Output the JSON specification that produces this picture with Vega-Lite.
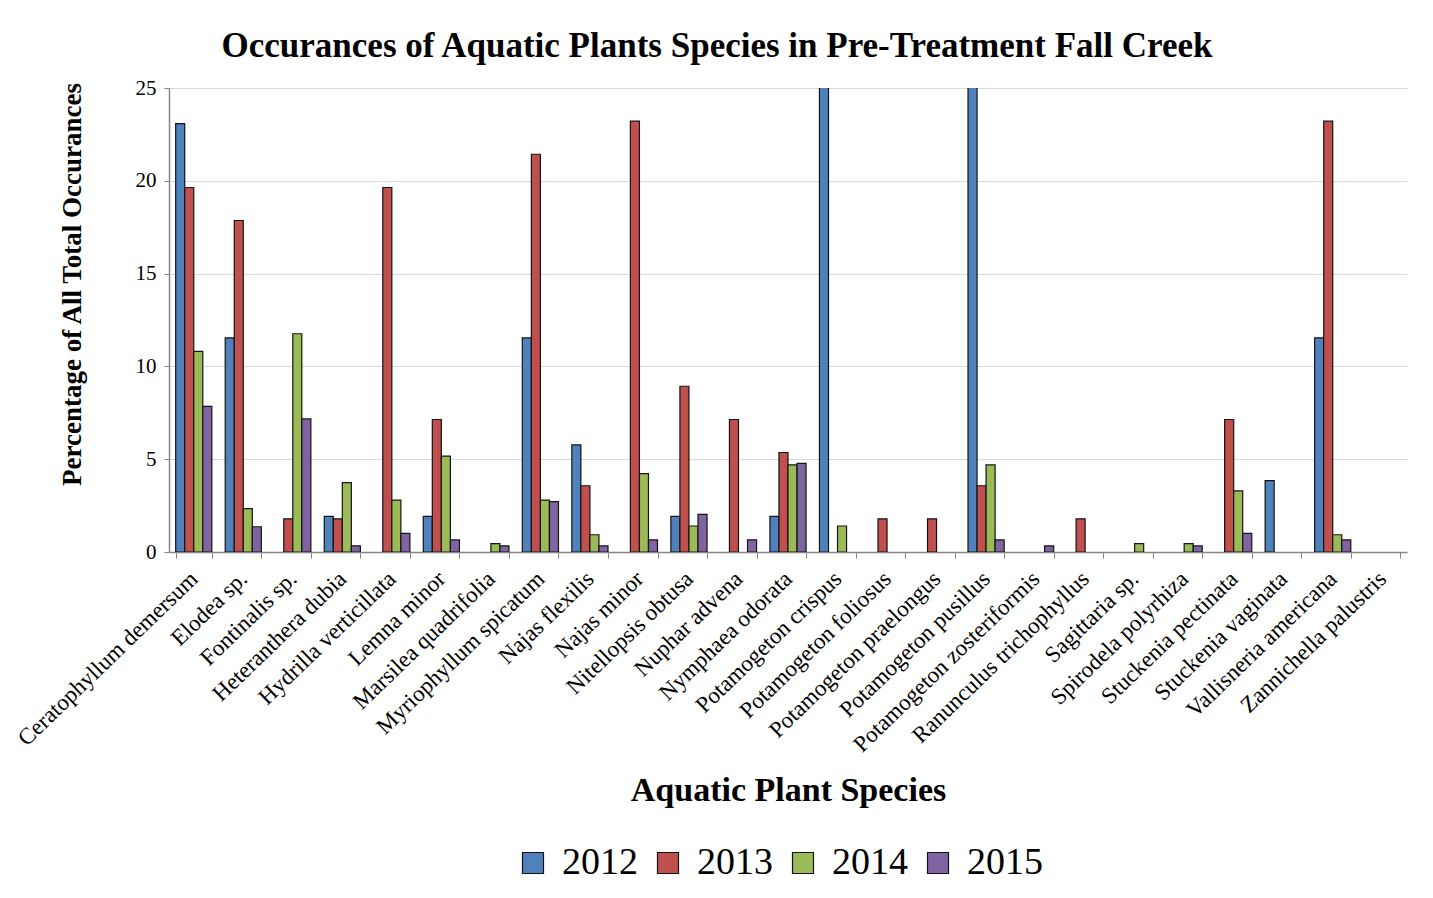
{
  "$schema": "https://vega.github.io/schema/vega-lite/v6.json",
  "autosize": {"type": "none"},
  "width": 1238,
  "height": 464,
  "padding": {"left": 169, "top": 88, "right": 26, "bottom": 346},
  "background": "white",
  "config": {
    "font": "Liberation Serif",
    "view": {"stroke": null}
  },
  "title": {
    "text": "Occurances of Aquatic Plants Species in Pre-Treatment Fall Creek",
    "font": "Liberation Serif",
    "fontSize": 35,
    "fontWeight": "bold",
    "color": "black",
    "anchor": "middle",
    "frame": "group",
    "dx": -71,
    "dy": 39,
    "baseline": "alphabetic",
    "offset": 24
  },
  "data": {
    "values": [
      {"species": "Ceratophyllum demersum", "year": "2012", "value": 23.08},
      {"species": "Ceratophyllum demersum", "year": "2013", "value": 19.64},
      {"species": "Ceratophyllum demersum", "year": "2014", "value": 10.81},
      {"species": "Ceratophyllum demersum", "year": "2015", "value": 7.85},
      {"species": "Elodea sp.", "year": "2012", "value": 11.54},
      {"species": "Elodea sp.", "year": "2013", "value": 17.86},
      {"species": "Elodea sp.", "year": "2014", "value": 2.34},
      {"species": "Elodea sp.", "year": "2015", "value": 1.36},
      {"species": "Fontinalis sp.", "year": "2013", "value": 1.79},
      {"species": "Fontinalis sp.", "year": "2014", "value": 11.76},
      {"species": "Fontinalis sp.", "year": "2015", "value": 7.17},
      {"species": "Heteranthera dubia", "year": "2012", "value": 1.92},
      {"species": "Heteranthera dubia", "year": "2013", "value": 1.79},
      {"species": "Heteranthera dubia", "year": "2014", "value": 3.74},
      {"species": "Heteranthera dubia", "year": "2015", "value": 0.33},
      {"species": "Hydrilla verticillata", "year": "2013", "value": 19.64},
      {"species": "Hydrilla verticillata", "year": "2014", "value": 2.8},
      {"species": "Hydrilla verticillata", "year": "2015", "value": 1.0},
      {"species": "Lemna minor", "year": "2012", "value": 1.92},
      {"species": "Lemna minor", "year": "2013", "value": 7.14},
      {"species": "Lemna minor", "year": "2014", "value": 5.17},
      {"species": "Lemna minor", "year": "2015", "value": 0.65},
      {"species": "Marsilea quadrifolia", "year": "2014", "value": 0.45},
      {"species": "Marsilea quadrifolia", "year": "2015", "value": 0.33},
      {"species": "Myriophyllum spicatum", "year": "2012", "value": 11.54},
      {"species": "Myriophyllum spicatum", "year": "2013", "value": 21.43},
      {"species": "Myriophyllum spicatum", "year": "2014", "value": 2.8},
      {"species": "Myriophyllum spicatum", "year": "2015", "value": 2.71},
      {"species": "Najas flexilis", "year": "2012", "value": 5.77},
      {"species": "Najas flexilis", "year": "2013", "value": 3.57},
      {"species": "Najas flexilis", "year": "2014", "value": 0.93},
      {"species": "Najas flexilis", "year": "2015", "value": 0.33},
      {"species": "Najas minor", "year": "2013", "value": 23.21},
      {"species": "Najas minor", "year": "2014", "value": 4.22},
      {"species": "Najas minor", "year": "2015", "value": 0.65},
      {"species": "Nitellopsis obtusa", "year": "2012", "value": 1.92},
      {"species": "Nitellopsis obtusa", "year": "2013", "value": 8.93},
      {"species": "Nitellopsis obtusa", "year": "2014", "value": 1.4},
      {"species": "Nitellopsis obtusa", "year": "2015", "value": 2.03},
      {"species": "Nuphar advena", "year": "2013", "value": 7.14},
      {"species": "Nuphar advena", "year": "2015", "value": 0.65},
      {"species": "Nymphaea odorata", "year": "2012", "value": 1.92},
      {"species": "Nymphaea odorata", "year": "2013", "value": 5.36},
      {"species": "Nymphaea odorata", "year": "2014", "value": 4.69},
      {"species": "Nymphaea odorata", "year": "2015", "value": 4.78},
      {"species": "Potamogeton crispus", "year": "2012", "value": 30},
      {"species": "Potamogeton crispus", "year": "2014", "value": 1.4},
      {"species": "Potamogeton foliosus", "year": "2013", "value": 1.79},
      {"species": "Potamogeton praelongus", "year": "2013", "value": 1.79},
      {"species": "Potamogeton pusillus", "year": "2012", "value": 30},
      {"species": "Potamogeton pusillus", "year": "2013", "value": 3.57},
      {"species": "Potamogeton pusillus", "year": "2014", "value": 4.69},
      {"species": "Potamogeton pusillus", "year": "2015", "value": 0.65},
      {"species": "Potamogeton zosteriformis", "year": "2015", "value": 0.33},
      {"species": "Ranunculus trichophyllus", "year": "2013", "value": 1.79},
      {"species": "Sagittaria sp.", "year": "2014", "value": 0.45},
      {"species": "Spirodela polyrhiza", "year": "2014", "value": 0.45},
      {"species": "Spirodela polyrhiza", "year": "2015", "value": 0.33},
      {"species": "Stuckenia pectinata", "year": "2013", "value": 7.14},
      {"species": "Stuckenia pectinata", "year": "2014", "value": 3.29},
      {"species": "Stuckenia pectinata", "year": "2015", "value": 1.0},
      {"species": "Stuckenia vaginata", "year": "2012", "value": 3.85},
      {"species": "Vallisneria americana", "year": "2012", "value": 11.54},
      {"species": "Vallisneria americana", "year": "2013", "value": 23.21},
      {"species": "Vallisneria americana", "year": "2014", "value": 0.93},
      {"species": "Vallisneria americana", "year": "2015", "value": 0.65}
    ]
  },
  "mark": {"type": "bar", "clip": true, "stroke": "#141414", "strokeWidth": 1.2},
  "encoding": {
    "x": {
      "field": "species",
      "type": "nominal",
      "scale": {
        "domain": ["Ceratophyllum demersum", "Elodea sp.", "Fontinalis sp.", "Heteranthera dubia", "Hydrilla verticillata", "Lemna minor", "Marsilea quadrifolia", "Myriophyllum spicatum", "Najas flexilis", "Najas minor", "Nitellopsis obtusa", "Nuphar advena", "Nymphaea odorata", "Potamogeton crispus", "Potamogeton foliosus", "Potamogeton praelongus", "Potamogeton pusillus", "Potamogeton zosteriformis", "Ranunculus trichophyllus", "Sagittaria sp.", "Spirodela polyrhiza", "Stuckenia pectinata", "Stuckenia vaginata", "Vallisneria americana", "Zannichella palustris"],
        "paddingInner": 0.27,
        "paddingOuter": 0.135
      },
      "axis": {
        "title": "Aquatic Plant Species",
        "titleFont": "Liberation Serif",
        "titleFontSize": 34,
        "titleFontWeight": "bold",
        "titleColor": "black",
        "titleBaseline": "alphabetic",
        "titleY": 248,
        "labelFont": "Liberation Serif",
        "labelFontSize": 23,
        "labelColor": "black",
        "labelAngle": -44,
        "labelAlign": "right",
        "labelBaseline": "middle",
        "labelPadding": 17,
        "labelOverlap": false,
        "labelLimit": 400,
        "tickBand": "extent",
        "tickSize": 6,
        "tickColor": "#868686",
        "domainColor": "#868686",
        "domainWidth": 1.5,
        "grid": false
      }
    },
    "xOffset": {
      "field": "year",
      "type": "nominal",
      "scale": {"domain": ["2012", "2013", "2014", "2015"], "paddingInner": 0, "paddingOuter": 0}
    },
    "y": {
      "field": "value",
      "type": "quantitative",
      "scale": {"domain": [0, 25], "nice": false},
      "axis": {
        "title": "Percentage of All Total Occurances",
        "titleFont": "Liberation Serif",
        "titleFontSize": 27,
        "titleFontWeight": "bold",
        "titleColor": "black",
        "titleX": -89,
        "titleY": 196,
        "titleAlign": "center",
        "titleBaseline": "alphabetic",
        "titleAngle": -90,
        "values": [0, 5, 10, 15, 20, 25],
        "format": "d",
        "labelFont": "Liberation Serif",
        "labelFontSize": 21,
        "labelColor": "black",
        "labelPadding": 8,
        "tickSize": 5,
        "tickColor": "#868686",
        "domainColor": "#868686",
        "domainWidth": 1.5,
        "gridColor": "#d9d9d9",
        "gridWidth": 1.2
      }
    },
    "fill": {
      "field": "year",
      "type": "nominal",
      "scale": {"domain": ["2012", "2013", "2014", "2015"], "range": ["#4F81BD", "#C0504D", "#9BBB59", "#8064A2"]},
      "legend": {
        "title": null,
        "orient": "none",
        "direction": "horizontal",
        "legendX": 345,
        "legendY": 756,
        "padding": 0,
        "symbolType": "square",
        "symbolSize": 441,
        "symbolStrokeColor": "#141414",
        "symbolStrokeWidth": 1.2,
        "symbolOpacity": 1,
        "labelFont": "Liberation Serif",
        "labelFontSize": 38,
        "labelColor": "black",
        "labelOffset": 10,
        "columnPadding": 11
      }
    }
  }
}
